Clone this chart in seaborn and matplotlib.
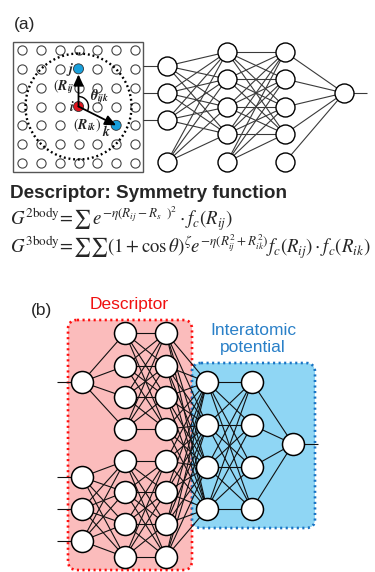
import numpy as np
import pandas as pd
import matplotlib
matplotlib.use("Agg")
import matplotlib.pyplot as plt
from matplotlib.patches import FancyBboxPatch, Circle, Arc, Rectangle
from matplotlib.collections import LineCollection
import seaborn as sns

sns.set_theme(style="white")
plt.rcParams["font.family"] = ["Liberation Sans", "DejaVu Sans"]
plt.rcParams["mathtext.fontset"] = "stix"

# ---- content -------------------------------------------------------------
panel_labels = ["(a)", "(b)"]
title_text = "Descriptor: Symmetry function"
eq_2body = r"$G^{\mathrm{2body}}\!=\!\sum\,e^{-\eta(R_{ij}-R_s\;\ )^2}\cdot f_c(R_{ij})$"
eq_3body = (r"$G^{\mathrm{3body}}\!=\!\sum\sum(1+\cos\theta)^{\zeta}"
            r"e^{-\eta(R_{ij}^2+R_{ik}^2)}f_c(R_{ij})\cdot f_c(R_{ik})$")
descriptor_label = "Descriptor"
potential_label = "Interatomic\npotential"

# lattice of atoms (7 x 7) and the highlighted atoms i, j, k
lattice_n = 7
atom_i = (3, 3)
atom_j = (3, 1)
atom_k = (5, 4)
label_i, label_j, label_k = r"$\mathbfit{i}$", r"$\mathbfit{j}$", r"$\mathbfit{k}$"
label_rij = r"$(\mathbfit{R}_{\mathbfit{ij}}$"
label_rik = r"$(\mathbfit{R}_{\mathbfit{ik}})$"
label_theta = r"$\mathbfit{\theta}_{\mathbfit{ijk}}$"

# layer sizes of the networks
net_a_layers = [4, 5, 5, 1]
net_b_desc_inputs = [1, 3]          # two descriptor sub-nets
net_b_desc_hidden = [4, 4]
net_b_pot_layers = [4, 4, 1]

# ---- figure -----------------------------------------------------------------
fig = plt.figure(figsize=(3.75, 5.72), dpi=100)
ax = fig.add_axes([0, 0, 1, 1])
ax.set_xlim(0, 375)
ax.set_ylim(572, 0)
ax.axis("off")

PX = 72 / 100  # points per pixel


def node_size(r):
    return (2 * r * PX) ** 2


def draw_nodes(xs, ys, r, z=5, lw=1.0):
    df = pd.DataFrame({"x": xs, "y": ys})
    sns.scatterplot(data=df, x="x", y="y", s=node_size(r), color="white",
                    edgecolor="black", linewidth=lw, ax=ax, zorder=z, legend=False)


def connect(segs, color, lw, z=3):
    ax.add_collection(LineCollection(segs, colors=color, linewidths=lw, zorder=z))


# ---- panel (a): lattice -----------------------------------------------------
ax.text(25, 25, panel_labels[0], fontsize=12.5, ha="center", va="center")
ax.add_patch(Rectangle((13, 42), 130, 130, fill=False, ec="#555555", lw=1.0, zorder=1))
gx = np.linspace(22, 135, lattice_n)
gy = np.linspace(50, 163, lattice_n)
special = {atom_i: "#e0141e", atom_j: "#18a0dc", atom_k: "#18a0dc"}
hidden = {(2, 2), (4, 4), (3, 4)}
lat = [(gx[c], gy[r]) for r in range(lattice_n) for c in range(lattice_n)
       if (c, r) not in special and (c, r) not in hidden]
ldf = pd.DataFrame(lat, columns=["x", "y"])
sns.scatterplot(data=ldf, x="x", y="y", s=node_size(4.6), color="white",
                edgecolor="#444444", linewidth=0.8, ax=ax, zorder=2, legend=False)
for (c, r), col in special.items():
    ax.add_patch(Circle((gx[c], gy[r]), 5.0, fc=col, ec="#333333", lw=0.6, zorder=6))

ci = (gx[atom_i[0]], gy[atom_i[1]])
cj = (gx[atom_j[0]], gy[atom_j[1]])
ck = (gx[atom_k[0]], gy[atom_k[1]])
ax.add_patch(Circle(ci, 53, fill=False, ec="black", lw=1.7,
                    linestyle=(0, (0.8, 1.2)), zorder=3))
for tgt, shrink in ((cj, 4), (ck, 0)):
    ax.annotate("", xy=tgt, xytext=ci,
                arrowprops=dict(arrowstyle="-|>,head_length=0.55,head_width=0.25",
                                color="black", lw=1.3, shrinkA=0, shrinkB=shrink),
                zorder=7)
ang_k = np.degrees(np.arctan2(ck[1] - ci[1], ck[0] - ci[0]))
ax.add_patch(Arc(ci, 20, 20, theta1=-90, theta2=ang_k, ec="black", lw=1.0, zorder=6))

lab_kw = dict(fontsize=10, ha="center", va="center", zorder=8, color="#222222")
ax.text(72, 107, label_i, **lab_kw)
ax.text(70, 69, label_j, **lab_kw)
ax.text(107, 132, label_k, **lab_kw)
ax.text(64, 87, label_rij, **lab_kw)
ax.text(100, 97, label_theta, **lab_kw)
ax.text(87, 125, label_rik, **lab_kw)

# ---- panel (a): network -----------------------------------------------------
ax_x = [167, 227, 285, 344]
ax_y = [[66, 93, 120, 162], [52, 79, 107, 134, 162], [52, 79, 107, 134, 162], [93]]
ra = 9.5
segs = []
for y in ax_y[0][:3]:
    segs.append([(143, y), (ax_x[0], y)])
for l in range(3):
    tgt = ax_y[l + 1] if l == 2 else ax_y[l + 1][:4]
    for y0 in ax_y[l]:
        for y1 in tgt:
            segs.append([(ax_x[l], y0), (ax_x[l + 1], y1)])
segs.append([(ax_x[3], ax_y[3][0]), (367, ax_y[3][0])])
connect(segs, "#3a3a3a", 0.8)
for x, ys in zip(ax_x, ax_y):
    draw_nodes([x] * len(ys), ys, ra)

# ---- descriptor text and equations -----------------------------------------
ax.text(10, 193, title_text, fontsize=13.6, fontweight="bold", ha="left", va="center")
ax.text(10, 225, eq_2body, fontsize=13.5, ha="left", va="baseline")
ax.text(10, 253, eq_3body, fontsize=13.5, ha="left", va="baseline")

# ---- panel (b) ---------------------------------------------------------------
ax.text(42, 311, panel_labels[1], fontsize=12.5, ha="center", va="center")
ax.add_patch(FancyBboxPatch((68, 320), 124, 250,
                            boxstyle="round,pad=0,rounding_size=9",
                            fc="#fbbcbc", ec="#ff1010", lw=1.9,
                            linestyle=(0, (0.8, 1.3)), zorder=1))
ax.add_patch(FancyBboxPatch((192, 363), 123, 165,
                            boxstyle="round,pad=0,rounding_size=9",
                            fc="#8fd6f4", ec="#1a74c4", lw=1.9,
                            linestyle=(0, (0.8, 1.3)), zorder=1.5))
ax.text(129, 305, descriptor_label, fontsize=12.5, color="#f01010", ha="center", va="center")
ax.text(253, 339, potential_label, fontsize=12.5, color="#2a80c8", ha="center",
        va="center", linespacing=1.15)

rb = 11
x_in, x_b, x_c, x_d, x_e, x_o = 82, 125, 166, 207, 252, 293
y_in = [[382], [477, 509, 541]]
y_b = [[333, 366, 397, 429], [461, 492, 524, 557]]
y_d = [382, 425, 467, 509]
y_o = 444

segs = []
for g in range(2):
    for y in y_in[g]:
        segs.append([(57, y), (x_in, y)])
        for y1 in y_b[g]:
            segs.append([(x_in, y), (x_b, y1)])
    for y0 in y_b[g]:
        for y1 in y_b[g]:
            segs.append([(x_b, y0), (x_c, y1)])
    for y0 in y_b[g]:
        for y1 in y_d:
            segs.append([(x_c, y0), (x_d, y1)])
for y0 in y_d:
    for y1 in y_d:
        segs.append([(x_d, y0), (x_e, y1)])
    segs.append([(x_e, y0), (x_o, y_o)])
segs.append([(x_o, y_o), (318, y_o)])
connect(segs, "#111111", 0.8)

draw_nodes([x_in] * 4, y_in[0] + y_in[1], rb, lw=1.1)
draw_nodes([x_b] * 8, y_b[0] + y_b[1], rb, lw=1.1)
draw_nodes([x_c] * 8, y_b[0] + y_b[1], rb, lw=1.1)
draw_nodes([x_d] * 4, y_d, rb, lw=1.1)
draw_nodes([x_e] * 4, y_d, rb, lw=1.1)
draw_nodes([x_o], [y_o], rb, lw=1.1)

ax.set_xlim(0, 375)
ax.set_ylim(572, 0)
fig.savefig("out.png", dpi=100, facecolor="white")
